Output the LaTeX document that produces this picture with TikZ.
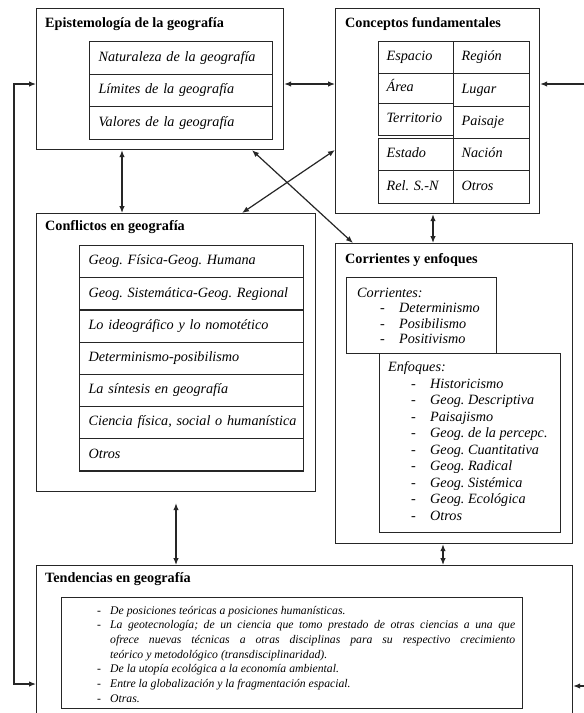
\documentclass[tikz,border=0pt]{standalone}
\usepackage{fontspec}
\setmainfont{Liberation Serif}
\usetikzlibrary{arrows.meta}
\hyphenpenalty=10000
\exhyphenpenalty=10000
\frenchspacing
\newcommand{\guion}[1]{\makebox[42pt][l]{\hspace{23pt}-}#1}

\begin{document}
\begin{tikzpicture}[x=1pt,y=-1pt]
\tikzstyle{box}=[draw=black!85,line width=1.2pt,anchor=north west,inner sep=0pt]
\tikzstyle{title}=[anchor=west,inner sep=0pt,font=\fontsize{14.2}{16}\selectfont\bfseries]
\tikzstyle{cell}=[draw=black!85,line width=1.2pt,anchor=north west,inner xsep=9pt,inner ysep=0pt,minimum height=32.5pt,text height=10pt,text depth=3.5pt,align=left,font=\fontsize{14.2}{16}\selectfont\itshape]
\tikzstyle{link}=[line width=1.2pt,draw=black!85,{Latex[length=7pt,width=5.5pt]}-{Latex[length=7pt,width=5.5pt]}]
\tikzstyle{stub}=[line width=1.2pt,draw=black!85,-{Latex[length=7pt,width=5.5pt]}]
\path[fill=white] (0,0) rectangle (584,713);
\useasboundingbox (0,0) rectangle (584,713);

\path (36,8) node[box,minimum width=247pt,minimum height=141pt](epi){};
\path (45,24) node[title](epit){Epistemología de la geografía};
\path (89,41) node[cell,text width=165pt](epi1){Naturaleza de la geografía};
\path (89,73.5) node[cell,text width=165pt](epi2){Límites de la geografía};
\path (89,106) node[cell,text width=165pt](epi3){Valores de la geografía};

\path (335,8) node[box,minimum width=204pt,minimum height=205pt](conc){};
\path (345,24) node[title](conct){Conceptos fundamentales};
\path (378,41) node[cell,inner xsep=8pt,text width=59pt,minimum height=32pt](esp){Espacio};
\path (378,73) node[cell,inner xsep=8pt,text width=59pt,minimum height=30pt](are){Área};
\path (378,103) node[cell,inner xsep=8pt,text width=59pt,minimum height=32pt](ter){Territorio};
\path (378,138) node[cell,inner xsep=8pt,text width=59pt,minimum height=32pt](est){Estado};
\path (378,170) node[cell,inner xsep=8pt,text width=59pt,minimum height=33pt](rel){Rel. S.-N};
\path (453,41) node[cell,inner xsep=8pt,text width=60pt,minimum height=32pt](reg){Región};
\path (453,73) node[cell,inner xsep=8pt,text width=60pt,minimum height=33pt](lug){Lugar};
\path (453,106) node[cell,inner xsep=8pt,text width=60pt,minimum height=32pt](pai){Paisaje};
\path (453,138) node[cell,inner xsep=8pt,text width=60pt,minimum height=32pt](nac){Nación};
\path (453,170) node[cell,inner xsep=8pt,text width=60pt,minimum height=33pt](otr){Otros};

\path (36,213) node[box,minimum width=279pt,minimum height=278pt](conf){};
\path (45,227) node[title](conft){Conflictos en geografía};
\path (79,245) node[cell,text width=206pt,minimum height=32.2pt](conf1){Geog. Física-Geog. Humana};
\path (79,277.2) node[cell,text width=206pt,minimum height=32.2pt](conf2){Geog. Sistemática-Geog. Regional};
\path (79,309.4) node[cell,text width=206pt,minimum height=32.2pt](conf3){Lo ideográfico y lo nomotético};
\path (79,341.6) node[cell,text width=206pt,minimum height=32.2pt](conf4){Determinismo-posibilismo};
\path (79,373.8) node[cell,text width=206pt,minimum height=32.2pt](conf5){La síntesis en geografía};
\path (79,406) node[cell,text width=206pt,minimum height=32.2pt](conf6){\mbox{Ciencia física, social o humanística}};
\path (79,438.2) node[cell,text width=206pt,minimum height=32.2pt](conf7){Otros};

\path (335,243) node[box,minimum width=237pt,minimum height=300pt](corr){};
\path (345,260) node[title](corrt){Corrientes y enfoques};
\path (346,277) node[box,minimum width=150pt,minimum height=76pt](cori){};
\path (357,286) node[anchor=north west,inner sep=0pt,font=\fontsize{14.2}{15.6}\selectfont\itshape](corl){%
\begin{tabular}{@{}l@{}}
Corrientes:\\
\guion{Determinismo}\\
\guion{Posibilismo}\\
\guion{Positivismo}
\end{tabular}};
\path (379,353) node[box,minimum width=181pt,minimum height=179pt](enfo){};
\path (388,360) node[anchor=north west,inner sep=0pt,font=\fontsize{14.2}{16.5}\selectfont\itshape](enfl){%
\begin{tabular}{@{}l@{}}
Enfoques:\\
\guion{Historicismo}\\
\guion{Geog. Descriptiva}\\
\guion{Paisajismo}\\
\guion{Geog. de la percepc.}\\
\guion{Geog. Cuantitativa}\\
\guion{Geog. Radical}\\
\guion{Geog. Sistémica}\\
\guion{Geog. Ecológica}\\
\guion{Otros}
\end{tabular}};

\path (36,565) node[box,minimum width=536pt,minimum height=170pt](ten){};
\path (45,579) node[title](tent){Tendencias en geografía};
\path (61,597) node[box,minimum width=461pt,minimum height=111pt](tenin){};
\path (97,603.7) node[anchor=north west,inner sep=0pt,font=\fontsize{11.7}{14.7}\selectfont\itshape](tenl){%
\begin{tabular}{@{}p{13pt}@{}p{405pt}@{}}
- & De posiciones teóricas a posiciones humanísticas.\\
- & La geotecnología; de un ciencia que tomo prestado de otras ciencias a una que\linebreak ofrece nuevas técnicas a otras disciplinas para su respectivo crecimiento\linebreak teórico y metodológico (transdisciplinaridad).\\
- & De la utopía ecológica a la economía ambiental.\\
- & Entre la globalización y la fragmentación espacial.\\
- & Otras.
\end{tabular}};

\draw[link] ([yshift=-76pt]epi.north east) -- ([yshift=-76pt]conc.north west);
\draw[link] ([xshift=86pt]epi.south west) -- ([xshift=86pt]conf.north west);
\draw[link] ([yshift=-142pt]conc.north west) -- ([xshift=206pt]conf.north west);
\draw[link] ([xshift=216pt]epi.south west) -- ([xshift=18pt]corr.north west);
\draw[link] ([xshift=98pt]conc.south west) -- ([xshift=98pt]corr.north west);
\draw[link,shorten <=11pt] ([xshift=140pt]conf.south west) -- ([xshift=140pt]ten.north west);
\draw[link] ([xshift=108pt]corr.south west) -- ([xshift=407pt]ten.north west);
\draw[link] ([yshift=-76pt]epi.north west) -- ++(-22,0) |- ([yshift=-119pt]ten.north west);
\coordinate (r1) at (584,84);
\coordinate (r2) at (584,686);
\draw[stub] (r1) -- ([yshift=-76pt]conc.north east);
\draw[stub] (r2) -- ([yshift=-121pt]ten.north east);
\end{tikzpicture}
\end{document}
